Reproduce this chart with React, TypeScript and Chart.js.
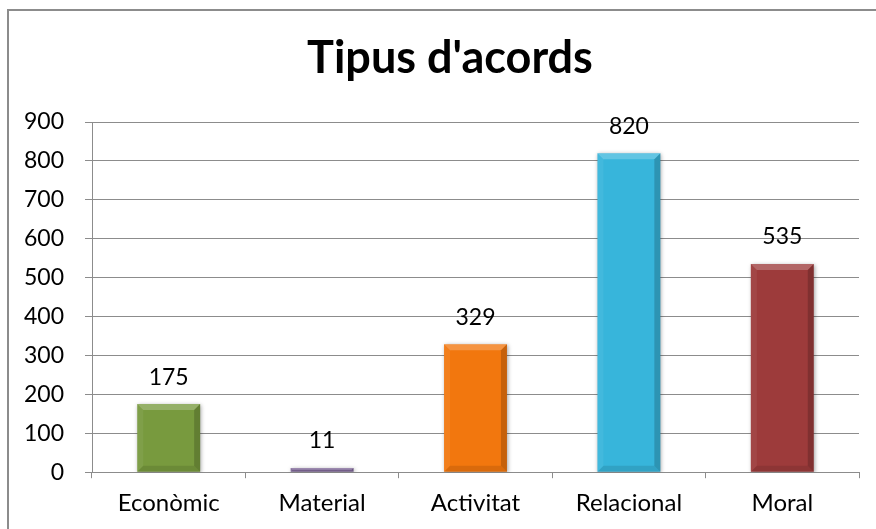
import React, { useEffect, useRef } from "react";
import { Chart, registerables } from "chart.js";

Chart.register(...registerables);

const chartTitle = "Tipus d'acords";
const categories = ["Econòmic", "Material", "Activitat", "Relacional", "Moral"];
const values = [175, 11, 329, 820, 535];
const barColors = ["#789A3E", "#7F6898", "#F2770E", "#37B5DB", "#9D3B3B"];
const yMin = 0;
const yMax = 900;
const yStep = 100;

const FONT = "Lato, 'Open Sans', sans-serif";

const framePlugin = {
  id: "frame",
  beforeDraw(chart: any) {
    const ctx = chart.ctx;
    ctx.save();
    ctx.fillStyle = "#ffffff";
    ctx.fillRect(0, 0, chart.width, chart.height);
    ctx.strokeStyle = "#8c8c8c";
    ctx.lineWidth = 2;
    ctx.strokeRect(8, 10, chart.width + 20, chart.height + 20);
    ctx.restore();
  },
  afterDraw(chart: any) {
    // chart title, centred on the outer chart frame
    const ctx = chart.ctx;
    ctx.save();
    ctx.fillStyle = "#000000";
    ctx.font = `bold 45px ${FONT}`;
    ctx.textAlign = "center";
    ctx.textBaseline = "alphabetic";
    ctx.fillText(chartTitle, 450, 73);
    ctx.restore();
  },
  beforeDatasetsDraw(chart: any) {
    const ctx = chart.ctx;
    ctx.save();
    ctx.shadowColor = "rgba(0,0,0,0.35)";
    ctx.shadowBlur = 4;
    ctx.shadowOffsetX = 1;
    ctx.shadowOffsetY = 1;
  },
  afterDatasetsDraw(chart: any) {
    const ctx = chart.ctx;
    ctx.restore();
    const meta = chart.getDatasetMeta(0);
    ctx.save();
    meta.data.forEach((el: any, i: number) => {
      const left = el.x - el.width / 2;
      const right = el.x + el.width / 2;
      const top = Math.min(el.y, el.base);
      const bottom = Math.max(el.y, el.base);
      const h = bottom - top;
      const b = Math.min(6, h / 2);
      if (b > 0.5) {
        const poly = (pts: number[][], color: string) => {
          ctx.beginPath();
          ctx.moveTo(pts[0][0], pts[0][1]);
          for (let k = 1; k < pts.length; k++) ctx.lineTo(pts[k][0], pts[k][1]);
          ctx.closePath();
          ctx.fillStyle = color;
          ctx.fill();
        };
        poly([[left, top], [right, top], [right - b, top + b], [left + b, top + b]], "rgba(255,255,255,0.22)");
        poly([[left, bottom], [right, bottom], [right - b, bottom - b], [left + b, bottom - b]], "rgba(0,0,0,0.10)");
        poly([[left, top], [left + b, top + b], [left + b, bottom - b], [left, bottom]], "rgba(255,255,255,0.06)");
        poly([[right, top], [right - b, top + b], [right - b, bottom - b], [right, bottom]], "rgba(0,0,0,0.18)");
      }
      ctx.fillStyle = "#000000";
      ctx.font = `23px ${FONT}`;
      ctx.textAlign = "center";
      ctx.textBaseline = "middle";
      ctx.fillText(String(values[i]), el.x, top - 27);
    });
    ctx.restore();
  },
};

export default function App() {
  const ref = useRef<HTMLCanvasElement | null>(null);

  useEffect(() => {
    if (!ref.current) return;
    const chart = new Chart(ref.current, {
      type: "bar",
      data: {
        labels: categories,
        datasets: [
          {
            data: values,
            backgroundColor: barColors,
            borderWidth: 0,
            categoryPercentage: 1,
            barPercentage: 0.41,
          },
        ],
      },
      options: {
        animation: false,
        responsive: false,
        maintainAspectRatio: false,
        layout: { padding: { left: 22, right: 17, top: 122, bottom: 0 } },
        plugins: {
          legend: { display: false },
          tooltip: { enabled: false },
          title: { display: false },
        },
        scales: {
          x: {
            grid: {
              display: true,
              drawOnChartArea: false,
              drawTicks: true,
              tickLength: 6,
              color: "#8c8c8c",
              offset: true,
            },
            border: { display: true, color: "#8c8c8c" },
            ticks: {
              color: "#000000",
              font: { family: FONT, size: 24 },
              padding: 11,
              maxRotation: 0,
            },
          },
          y: {
            min: yMin,
            max: yMax,
            afterFit(scale: any) {
              scale.width = 70;
            },
            grid: {
              color: "#8c8c8c",
              drawTicks: true,
              tickLength: 7,
            },
            border: { display: true, color: "#8c8c8c" },
            ticks: {
              stepSize: yStep,
              color: "#000000",
              font: { family: FONT, size: 23 },
              padding: 21,
            },
          },
        },
      },
      plugins: [framePlugin],
    });
    return () => chart.destroy();
  }, []);

  return (
    <div style={{ position: "fixed", left: 0, top: 0, width: 876, height: 529, background: "#fff" }}>
      <canvas ref={ref} width={876} height={529} style={{ display: "block" }} />
    </div>
  );
}
